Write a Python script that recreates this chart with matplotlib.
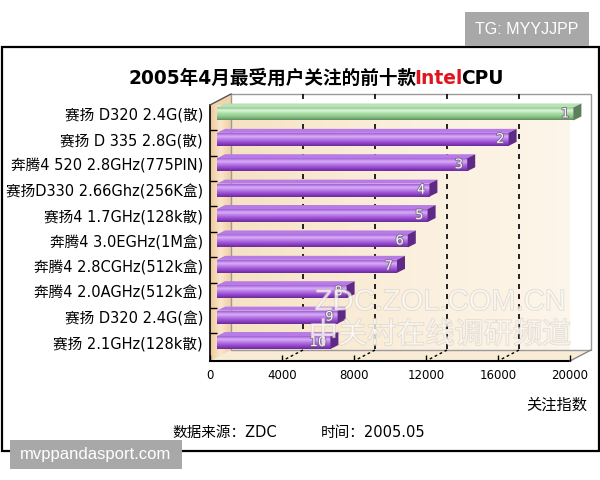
import numpy as np
import matplotlib
matplotlib.use("Agg")
import matplotlib.pyplot as plt
from matplotlib.patches import Rectangle, Polygon
from matplotlib.colors import LinearSegmentedColormap
import matplotlib.patheffects as pe

plt.rcParams['font.family'] = ['DejaVu Sans', 'Noto Sans CJK SC']

# data
cpus = ["赛扬 D320 2.4G(散)", "赛扬 D 335 2.8G(散)", "奔腾4 520 2.8GHz(775PIN)",
        "赛扬D330 2.66Ghz(256K盒)", "赛扬4 1.7GHz(128k散)", "奔腾4 3.0EGHz(1M盒)",
        "奔腾4 2.8CGHz(512k盒)", "奔腾4 2.0AGHz(512k盒)", "赛扬 D320 2.4G(盒)",
        "赛扬 2.1GHz(128k散)"]
ranks = [1, 2, 3, 4, 5, 6, 7, 8, 9, 10]
attention = [19800, 16200, 13900, 11800, 11700, 10600, 10000, 7200, 6700, 6300]
x_ticks = [0, 4000, 8000, 12000, 16000, 20000]

fig = plt.figure(figsize=(6, 4.8), dpi=100)
fig.patch.set_facecolor("white")

# front plane of the 3d box
ax = fig.add_axes([210 / 600, 119 / 480, 360 / 600, 256 / 480])
ax.patch.set_visible(False)
for s in ax.spines.values():
    s.set_visible(False)

XMAX = 20000
PX = XMAX / 360.0     # data units per pixel (x)
PY = 1 / 25.4         # data units per pixel (y)
Y0, Y1 = -0.49, 9.59
DX, DY = 21 * PX, -11 * PY      # wall depth
BX, BY = 7 * PX, -3.5 * PY      # bar front face offset
TX, TY = 8 * PX, -4 * PY        # bar depth
BH = 13 * PY

# back wall
wall_cmap = LinearSegmentedColormap.from_list("wall", ["#F6E2C3", "#FBF0DE", "#FDF6EC"])
ax.imshow(np.linspace(0, 1, 64).reshape(1, -1), extent=(DX, XMAX + DX, Y1 + DY, Y0 + DY),
          cmap=wall_cmap, aspect="auto", zorder=0, interpolation="bilinear")
ax.add_patch(Rectangle((DX, Y0 + DY), XMAX, Y1 - Y0, fill=False, ec="#9a9a9a", lw=1, zorder=0.6,
                       clip_on=False))

# left wall
left_poly = Polygon([(0, Y0), (DX, Y0 + DY), (DX, Y1 + DY), (0, Y1)], closed=True,
                    fc="#F2D3AA", ec="none", zorder=0.5, clip_on=False)
ax.add_patch(left_poly)
lw_cmap = LinearSegmentedColormap.from_list("lw", ["#EEC89A", "#FAE6CC", "#F0CFA4"])
im = ax.imshow(np.linspace(0, 1, 32).reshape(1, -1), extent=(0, DX, Y1, Y0 + DY),
               cmap=lw_cmap, aspect="auto", zorder=0.55, interpolation="bilinear")
im.set_clip_path(left_poly)

# floor
ax.add_patch(Polygon([(0, Y1), (XMAX, Y1), (XMAX + DX, Y1 + DY), (DX, Y1 + DY)], closed=True,
                     fc="#F9ECD6", ec="none", zorder=0.5, clip_on=False))

# box edges
ax.plot([0, 0], [Y0, Y1], color="black", lw=1.2, zorder=1, clip_on=False)
ax.plot([0, XMAX], [Y1, Y1], color="black", lw=1.5, zorder=1, clip_on=False)
ax.plot([0, DX], [Y0, Y0 + DY], color="#555555", lw=1, zorder=1, clip_on=False)
ax.plot([XMAX, XMAX + DX], [Y1, Y1 + DY], color="#888888", lw=1, zorder=1, clip_on=False)

# dashed grid on back wall and floor
for g in x_ticks[1:-1]:
    ax.plot([g + DX, g + DX], [Y0 + DY, Y1 + DY], color="black", lw=1.2,
            ls=(0, (3, 3)), zorder=1, clip_on=False)
    ax.plot([g + DX, g], [Y1 + DY, Y1], color="black", lw=1, ls=(0, (2, 2)), zorder=1,
            clip_on=False)

# bars
pos = np.arange(len(attention))
front_colors = ["#9ED49A"] + ["#9A4FD0"] * 9
bars = ax.barh(pos + BY, attention, left=BX, height=BH, color=front_colors,
               edgecolor="none", zorder=3)

purple_cmap = LinearSegmentedColormap.from_list(
    "pu", ["#A05CD8", "#D9AEF6", "#B476E6", "#9446CC", "#6A2A9A"])
green_cmap = LinearSegmentedColormap.from_list(
    "gr", ["#86BE84", "#DDF5D9", "#A8DCA4", "#8CC58A", "#5E925E"])
grad = np.linspace(0, 1, 60).reshape(-1, 1)

for i, (bar, v) in enumerate(zip(bars, attention)):
    yc = pos[i] + BY
    yt, yb = yc - BH / 2, yc + BH / 2
    x1 = BX + v
    cm = green_cmap if i == 0 else purple_cmap
    top_c = "#B9E3B5" if i == 0 else "#B77BE6"
    side_c = "#5E7F5E" if i == 0 else "#5E2A86"
    gim = ax.imshow(grad, extent=(BX, x1, yb, yt), cmap=cm, aspect="auto", zorder=3.1,
                    interpolation="bilinear")
    gim.set_clip_path(bar)
    ax.add_patch(Polygon([(BX, yt), (x1, yt), (x1 + TX, yt + TY), (BX + TX, yt + TY)],
                         closed=True, fc=top_c, ec="none", zorder=3.2, clip_on=False))
    ax.add_patch(Polygon([(x1, yt), (x1 + TX, yt + TY), (x1 + TX, yb + TY), (x1, yb)],
                         closed=True, fc=side_c, ec="none", zorder=3.2, clip_on=False))
    ax.text(x1 - 4 * PX, yc, str(ranks[i]), ha="right", va="center", fontsize=9.5,
            color="#FAF6FC", zorder=4,
            path_effects=[pe.withStroke(linewidth=1.3, foreground="#7E6A8C")])

ax.set_xlim(0, XMAX)
ax.set_ylim(Y1, Y0)
ax.set_xticks(x_ticks)
ax.set_xticklabels([str(t) for t in x_ticks])
ax.tick_params(axis="x", direction="in", length=4, width=1, pad=6, labelsize=8.5)
ax.set_yticks(pos + BY)
ax.set_yticklabels(cpus)
ax.tick_params(axis="y", length=0, pad=5, labelsize=10.5)
ax.set_yticks(np.arange(9) + 0.5, minor=True)
ax.tick_params(axis="y", which="minor", direction="in", length=5, width=1)

# watermark
fig.text(0.733, 0.371, "ZDC.ZOL.COM.CN", ha="center", va="center", fontsize=21,
         family="Liberation Sans", color="white", alpha=0.5,
         path_effects=[pe.withStroke(linewidth=1.1, foreground="#CFC6BA")])
fig.text(0.733, 0.302, "中关村在线调研频道", ha="center", va="center", fontsize=21,
         color="white", alpha=0.5,
         path_effects=[pe.withStroke(linewidth=1.1, foreground="#CFC6BA")])

# title in three colours
t1 = fig.text(128 / 600, 1 - 78 / 480, "2005年4月最受用户关注的前十款", ha="left", va="center",
              fontsize=13.4, fontweight="bold", color="black")
t2 = ax.annotate("Intel", xy=(1, 0), xycoords=t1, xytext=(-2, 0), textcoords="offset pixels",
                 va="bottom", ha="left", fontsize=13.4, fontweight="bold", color="#E0141E",
                 annotation_clip=False)
ax.annotate("CPU", xy=(1, 0), xycoords=t2, xytext=(-1, 0), textcoords="offset pixels",
            va="bottom", ha="left", fontsize=13.4, fontweight="bold", color="black",
            annotation_clip=False)

fig.text(587 / 600, 1 - 405 / 480, "关注指数", ha="right", va="center", fontsize=11)
fig.text(172 / 600, 1 - 432 / 480, "数据来源：ZDC", ha="left", va="center", fontsize=10.5)
fig.text(321 / 600, 1 - 432 / 480, "时间：2005.05", ha="left", va="center", fontsize=10.5)

# outer frame
fig.patches.append(Rectangle((1.5 / 600, 1 - 451 / 480), 597 / 600, 404 / 480, fill=False,
                             ec="black", lw=1.6, transform=fig.transFigure, figure=fig))

# grey tag boxes
fig.patches.append(Rectangle((465 / 600, 1 - 46 / 480), 124 / 600, 34 / 480, fc="#A8A8A8",
                             ec="none", transform=fig.transFigure, figure=fig))
fig.text(527 / 600, 1 - 29 / 480, "TG: MYYJJPP", ha="center", va="center", fontsize=11.5,
         family="Liberation Sans", color="white")
fig.patches.append(Rectangle((10 / 600, 1 - 469 / 480), 172 / 600, 29 / 480, fc="#A8A8A8",
                             ec="none", transform=fig.transFigure, figure=fig))
fig.text(96 / 600, 1 - 455 / 480, "mvppandasport.com", ha="center", va="center", fontsize=12,
         family="Liberation Sans", color="white")

fig.savefig("out.png", dpi=100)
